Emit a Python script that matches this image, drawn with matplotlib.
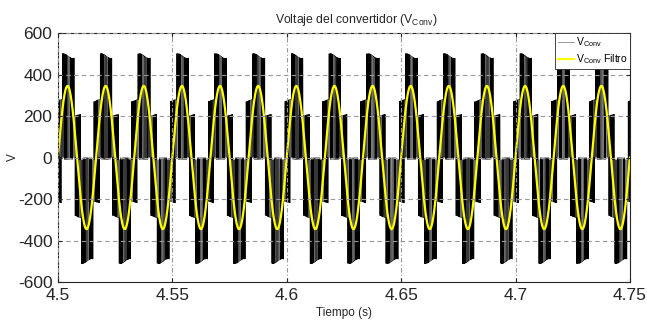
import numpy as np
import matplotlib
matplotlib.use("Agg")
import matplotlib.pyplot as plt
from matplotlib.lines import Line2D

# ---- data / simulation parameters ----
time_span = [4.5, 4.75]          # s
grid_freq = 60.0                 # Hz (15 cycles in 0.25 s)
filt_amplitude = 345.0           # V, filtered converter voltage peak
phase_weights = [490.0, 285.0, 215.0]  # V, weights of switch states a, b, c
mod_index = 1.05
carrier_freq = 2000.0            # Hz
conv_lag_deg = 4.0               # converter waveform lag vs filtered (deg)
dc_ripple = 0.023                # relative ripple on levels

x_ticks = [4.5, 4.55, 4.6, 4.65, 4.7, 4.75]
x_tick_labels = ["4.5", "4.55", "4.6", "4.65", "4.7", "4.75"]
y_ticks = [-600, -400, -200, 0, 200, 400, 600]
y_tick_labels = ["-600", "-400", "-200", "0", "200", "400", "600"]

title_text = r"Voltaje del convertidor (V$_{\mathrm{Conv}}$)"
xlabel_text = "Tiempo (s)"
ylabel_text = "V"
legend_labels = [r"V$_{\mathrm{Conv}}$", r"V$_{\mathrm{Conv}}$ Filtro"]

# ---- build signals ----
t = np.arange(time_span[0], time_span[1], 1.0 / (carrier_freq * 200))
w = 2 * np.pi * grid_freq
v_filt = filt_amplitude * np.sin(w * t)

theta = w * t - np.deg2rad(conv_lag_deg)
ph = (carrier_freq * t) % 1.0
carrier = 2 * np.abs(2 * ph - 1) - 1  # triangle in [-1, 1]
Sa = (mod_index * np.sin(theta) > carrier).astype(float)
Sb = (mod_index * np.sin(theta - 2 * np.pi / 3) > carrier).astype(float)
Sc = (mod_index * np.sin(theta + 2 * np.pi / 3) > carrier).astype(float)
v_conv = phase_weights[0] * Sa - phase_weights[1] * Sb - phase_weights[2] * Sc
v_conv = v_conv * (1 + dc_ripple * np.sin(2 * theta))

# ---- plot ----
plt.rcParams["font.family"] = ["Liberation Sans", "DejaVu Sans"]
plt.rcParams["mathtext.fontset"] = "custom"
plt.rcParams["mathtext.rm"] = "Liberation Sans"
plt.rcParams["mathtext.it"] = "Liberation Sans:italic"

fig = plt.figure(figsize=(6.47, 3.22), dpi=100)
ax = fig.add_axes([0.0896, 0.124, 0.884, 0.7735])

ax.plot(t, v_conv, color="black", lw=0.28)
ax.plot(t, v_filt, color="#ffff00", lw=1.6)

ax.set_xlim(time_span)
ax.set_ylim(-600, 600)
ax.set_xticks(x_ticks)
ax.set_xticklabels(x_tick_labels)
ax.set_yticks(y_ticks)
ax.set_yticklabels(y_tick_labels)
ax.tick_params(labelsize=12.5, length=3, direction="in", colors="#262626",
               top=True, right=True, pad=4)
for sp in ax.spines.values():
    sp.set_color("#262626")
    sp.set_linewidth(0.8)

ax.yaxis.grid(True, linestyle=(0, (4, 3)), color="#999999", lw=0.8)
ax.xaxis.grid(True, linestyle=(0, (4, 2, 1, 2)), color="#999999", lw=0.8)
ax.set_axisbelow(False)

ax.set_title(title_text, fontsize=8.8, pad=7, color="#262626", x=0.522)
ax.set_xlabel(xlabel_text, fontsize=8.5, labelpad=3, color="#262626")
ax.set_ylabel(ylabel_text, fontsize=8.5, color="#262626")
ax.yaxis.set_label_coords(-0.068, 0.5)

handles = [Line2D([], [], color="#8c8c8c", lw=0.6),
           Line2D([], [], color="#ffff00", lw=1.6)]
leg = ax.legend(handles, legend_labels, loc="upper right", fontsize=7.5,
                frameon=True, fancybox=False, borderaxespad=0.0,
                handlelength=1.5, handletextpad=0.2, borderpad=0.25,
                labelspacing=0.3, framealpha=1)
leg.get_frame().set_edgecolor("#262626")
leg.get_frame().set_linewidth(0.6)

fig.savefig("out.png", dpi=100)
